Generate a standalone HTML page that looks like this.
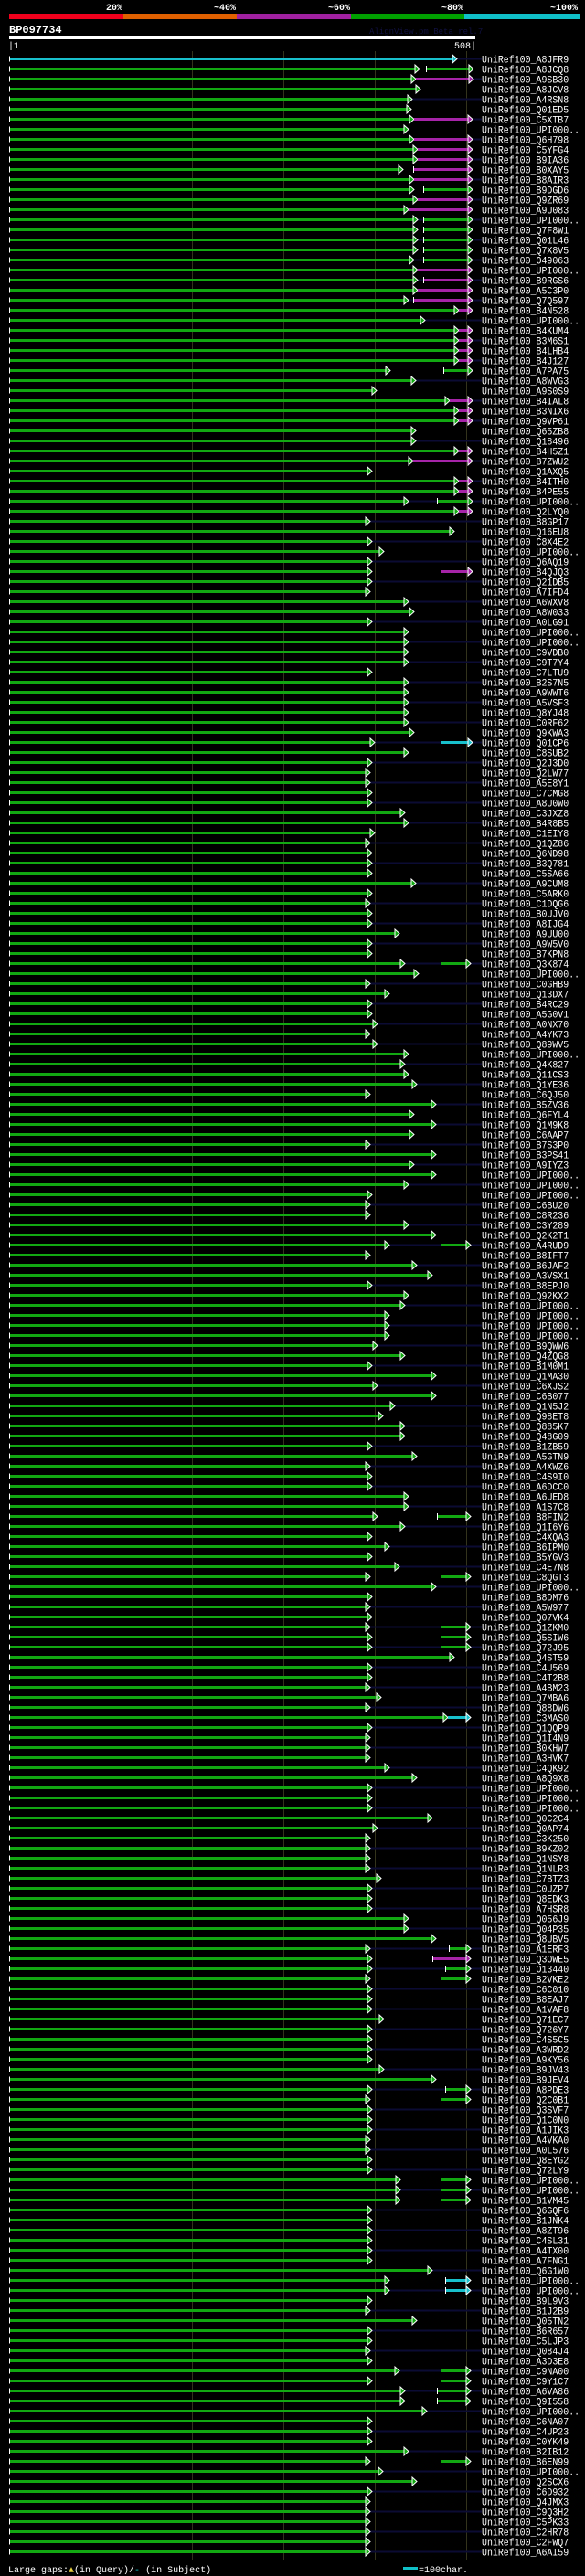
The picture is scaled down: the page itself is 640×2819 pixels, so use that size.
<!DOCTYPE html>
<html><head><meta charset="utf-8"><style>
html,body{margin:0;padding:0;background:#000;}
svg{display:block;}
text{font-family:"Liberation Mono",monospace;}
</style></head><body>
<svg id="chart" width="640" height="2819" viewBox="0 0 640 2819" xmlns="http://www.w3.org/2000/svg">
<rect x="0" y="0" width="640" height="2819" fill="#000"/>
<g>
<rect x="10" y="15" width="125" height="6" fill="#f0001c"/>
<rect x="135" y="15" width="124" height="6" fill="#e06000"/>
<rect x="259" y="15" width="125" height="6" fill="#a020a0"/>
<rect x="384" y="15" width="124" height="6" fill="#00a000"/>
<rect x="508" y="15" width="126" height="6" fill="#10c0c8"/>
<text x="134" y="11" fill="#fff" font-size="10" font-weight="bold" text-anchor="end">20%</text>
<text x="258" y="11" fill="#fff" font-size="10" font-weight="bold" text-anchor="end">~40%</text>
<text x="383" y="11" fill="#fff" font-size="10" font-weight="bold" text-anchor="end">~60%</text>
<text x="507" y="11" fill="#fff" font-size="10" font-weight="bold" text-anchor="end">~80%</text>
<text x="632" y="11" fill="#fff" font-size="10" font-weight="bold" text-anchor="end">~100%</text>
</g>
<text x="10" y="36" fill="#fff" font-size="12" font-weight="bold">BP097734</text>
<text x="404" y="37" fill="#101040" font-size="9">AlignView.pm Beta rel.7</text>
<rect x="10" y="39" width="510" height="4" fill="#fff"/>
<text x="9" y="53" fill="#fff" font-size="10">|1</text>
<text x="521" y="53" fill="#fff" font-size="10" text-anchor="end">508|</text>
<g id="grid"></g>
<g id="rows"></g>
<g>
<text x="9" y="2815" fill="#fff" font-size="10">Large gaps:<tspan fill="#e8d040">▲</tspan>(in Query)/<tspan fill="#10c0c8">-</tspan> (in Subject)</text>
<rect x="441" y="2809" width="16" height="3" fill="#10c0c8"/>
<text x="458" y="2815" fill="#fff" font-size="10">=100char.</text>
</g>
</svg>
<script>
const labels = ["A8JFR9","A8JCQ8","A9SB30","A8JCV8","A4RSN8","Q01ED5","C5XTB7","UPI000..","Q6H798","C5YFG4","B9IA36","B0XAY5","B8AIR3","B9DGD6","Q9ZR69","A9U083","UPI000..","Q7F8W1","Q01L46","Q7X8V5","O49063","UPI000..","B9RGS6","A5C3P0","Q7Q597","B4N528","UPI000..","B4KUM4","B3M6S1","B4LHB4","B4J127","A7PA75","A8WVG3","A9S0S9","B4IAL8","B3NIX6","Q9VP61","Q65ZB8","Q18496","B4H5Z1","B7ZWU2","Q1AXQ5","B4ITH0","B4PE55","UPI000..","Q2LYQ0","B8GP17","Q16EU8","C8X4E2","UPI000..","Q6AQ19","B4QJQ3","Q21DB5","A7IFD4","A6WXV8","A8W033","A0LG91","UPI000..","UPI000..","C9VDB0","C9T7Y4","C7LTU9","B2S7N5","A9WWT6","A5VSF3","Q8YJ48","C0RF62","Q9KWA3","Q01CP6","C8SUB2","Q2J3D0","Q2LW77","A5E8Y1","C7CMG8","A8U0W0","C3JXZ8","B4R8B5","C1EIY8","Q1QZ86","Q6ND98","B3Q781","C5SA66","A9CUM8","C5ARK0","C1DQG6","B0UJV0","A8IJG4","A9UU00","A9W5V0","B7KPN8","Q3K874","UPI000..","C0GHB9","Q13DX7","B4RC29","A5G0V1","A0NX70","A4YK73","Q89WV5","UPI000..","Q4K827","Q11CS3","Q1YE36","C6QJ50","B5ZV36","Q6FYL4","Q1M9K8","C6AAP7","B7S3P0","B3PS41","A9IYZ3","UPI000..","UPI000..","UPI000..","C6BU20","C8R236","C3Y289","Q2K2T1","A4RUD9","B8IFT7","B6JAF2","A3VSX1","B8EPJ0","Q92KX2","UPI000..","UPI000..","UPI000..","UPI000..","B9QWW6","Q4ZQG8","B1M0M1","Q1MA30","C6XJS2","C6B077","Q1N5J2","Q98ET8","Q885K7","Q48G09","B1ZB59","A5GTN9","A4XWZ6","C4S9I0","A6DCC0","A6UED8","A1S7C8","B8FIN2","Q1I6Y6","C4XQA3","B6IPM0","B5YGV3","C4E7N8","C8QGT3","UPI000..","B8DM76","A5W977","Q07VK4","Q1ZKM0","Q5SIW6","Q72J95","Q4ST59","C4U569","C4T2B8","A4BM23","Q7MBA6","Q88DW6","C3MAS0","Q1QQP9","Q1I4N9","B0KHW7","A3HVK7","C4QK92","A8Q9X8","UPI000..","UPI000..","UPI000..","Q0C2C4","Q0AP74","C3K250","B9KZ02","Q1NSY8","Q1NLR3","C7BTZ3","C0UZP7","Q8EDK3","A7HSR8","Q056J9","Q04P35","Q8UBV5","A1ERF3","Q3OWE5","O13440","B2VKE2","C6C010","B8EAJ7","A1VAF8","Q71EC7","Q726Y7","C4S5C5","A3WRD2","A9KY56","B9JV43","B9JEV4","A8PDE3","Q2C0B1","Q3SVF7","Q1C0N0","A1JIK3","A4VKA0","A0L576","Q8EYG2","Q72LY9","UPI000..","UPI000..","B1VM45","Q6GQF6","B1JNK4","A8ZT96","C4SL31","A4TX00","A7FNG1","Q6G1W0","UPI000..","UPI000..","B9L9V3","B1J2B9","Q05TN2","B6R657","C5LJP3","Q084J4","A3D3E8","C9NA00","C9Y1C7","A6VA86","Q9I558","UPI000..","C6NA07","C4UP23","C0YK49","B2IB12","B6EN99","UPI000..","Q2SCX6","C6D932","Q4JMX3","C9Q3H2","C5PK33","C2HR78","C2FWQ7","A6AI59"];
const ends = [490,449,445,450,441,440,443,437,443,447,447,431,443,443,447,437,447,447,447,447,443,447,447,447,437,492,455,492,492,492,492,417,445,402,482,492,492,445,445,492,442,397,492,492,437,492,395,487,397,410,397,397,397,395,437,443,397,437,437,437,437,397,437,437,437,437,437,443,400,437,397,395,395,397,397,433,437,400,395,397,397,397,445,397,395,397,397,427,397,397,433,448,395,416,397,397,403,395,403,437,433,437,446,395,467,443,467,443,395,467,443,467,437,397,395,395,437,467,416,395,446,463,397,437,433,416,416,416,403,433,397,467,403,467,422,409,433,433,397,446,395,397,397,437,437,403,433,397,416,397,427,395,467,397,395,397,395,397,397,487,397,397,395,407,395,480,397,395,395,395,416,446,397,397,397,463,403,395,395,395,395,407,397,397,397,437,437,467,395,397,397,395,397,397,397,410,397,397,397,397,410,467,397,395,397,397,397,395,395,397,397,428,428,428,397,397,397,397,397,397,463,416,416,397,395,446,397,397,395,397,427,397,433,433,457,397,397,397,437,395,409,446,397,395,395,395,395,395,395];
const segRows   = [1,2,6,8,9,10,11,12,13,14,15,16,17,18,19,20,21,22,23,24,25,27,28,29,30,31,34,35,36,39,40,42,43,44,45,51,68,90,118,145,151,156,157,158,165,188,189,190,191,202,203,211,212,213,221,222,230,231,232,233,239];
const segStarts = [456,445,443,443,447,447,442,443,453,447,437,453,453,453,453,453,447,453,447,442,492,492,492,492,492,475,482,492,492,492,442,492,492,468,492,472,472,472,472,468,472,472,472,472,480,481,463,477,472,477,472,472,472,472,477,477,472,472,468,468,472];
const segEnds   = [508,508,507,507,507,507,507,507,507,507,507,507,507,507,507,507,507,507,507,507,507,507,507,507,507,507,507,507,507,507,507,507,507,507,507,507,507,505,505,505,505,505,505,505,505,505,505,505,505,505,505,505,505,505,505,505,505,505,505,505,505];
const segKinds  = ["g","m","m","m","m","m","m","m","g","m","m","g","g","g","g","g","m","m","m","m","m","m","m","m","m","g","m","m","m","m","m","m","m","g","m","m","c","g","g","g","g","g","g","g","c","g","m","g","g","g","g","g","g","g","c","c","g","g","g","g","g"];
const cyanMainRows = [0];
const gridTicks = [100,200,300,400,500];

const NS="http://www.w3.org/2000/svg";
const COL={g:"#12a812",m:"#a624a8",c:"#18c0cc"};
const xScale=p=>10+p;
const yRow=i=>64.5+11*i;
const LABEL_X=527;
function mk(tag,attrs,parent){const e=document.createElementNS(NS,tag);for(const k in attrs)e.setAttribute(k,attrs[k]);parent.appendChild(e);return e;}
const grid=document.getElementById('grid');
gridTicks.forEach(t=>{
  const l=mk('rect',{x:xScale(t),y:56,width:1,height:2745,fill:'#33331c'},grid);
  
  
});
const rows=document.getElementById('rows');
function tri(x,y,color,parent){
  const p=mk('polygon',{points:`${x-5},${y-4.5} ${x},${y} ${x-5},${y+4.5}`,fill:color,stroke:'#fff','stroke-width':1},parent);
  
  
}
labels.forEach((lab,i)=>{
  const y=yRow(i);
  const g=mk('g',{},rows);
  
  
  const ex=xScale(ends[i]);
  if(i%2===0){
    const n=mk('rect',{x:ex,y:y-1,width:LABEL_X-ex,height:2,fill:'#0b0b34'},g);
    
    
  }
  const col=cyanMainRows.includes(i)?COL.c:COL.g;
  const b=mk('rect',{x:11,y:y-1.5,width:ex-11-3,height:3,fill:col},g);
  
  
  const st=mk('rect',{x:10,y:y-3,width:1,height:6,fill:'#fff'},g);
  
  
  tri(ex,y,col,g);
  const si=segRows.indexOf(i);
  if(si>=0){
    const sx=xScale(segStarts[si]),sx2=xScale(segEnds[si]);
    const c2=COL[segKinds[si]];
    const s=mk('rect',{x:sx,y:y-1.5,width:sx2-sx-3,height:3,fill:c2},g);
    
    
    if(segStarts[si]>ends[i]+2){
      const tk=mk('rect',{x:sx,y:y-3.5,width:1,height:7,fill:'#fff'},g);
      
      
    }
    tri(sx2,y,c2,g);
  }
  const t=mk('text',{x:LABEL_X,y:y+4,fill:'#fff','font-size':11,textLength:(10+lab.length)*5.95,lengthAdjust:'spacingAndGlyphs'},g);
  t.textContent='UniRef100_'+lab;
  
  
});
</script>
</body></html>
